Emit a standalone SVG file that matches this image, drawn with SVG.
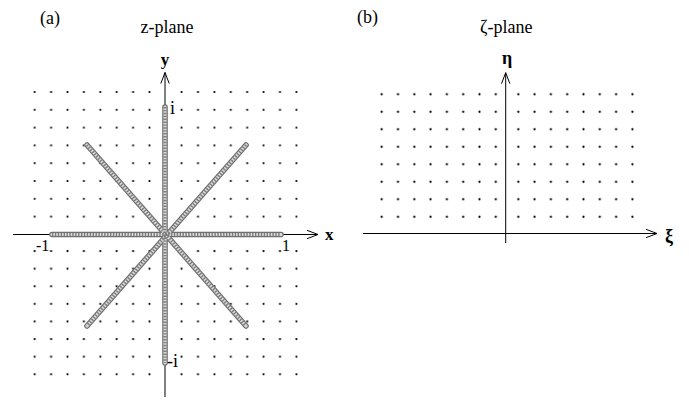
<svg xmlns="http://www.w3.org/2000/svg" width="689" height="401" viewBox="0 0 689 401">
<style>
.t{font-family:"Liberation Serif","Times New Roman",serif;fill:#000}
.ax{stroke:#000;stroke-width:1;fill:none}
.ro{stroke:#6e6e6e;stroke-width:5.6;stroke-linecap:round;fill:none}
.ri{stroke:#dcdcdc;stroke-width:3.2;stroke-linecap:round;fill:none}
.rh{stroke:#7c7c7c;stroke-width:3.2;stroke-dasharray:1.4 1.5;fill:none}
</style>
<defs>
<marker id="arr" markerUnits="userSpaceOnUse" markerWidth="14" markerHeight="12" refX="0" refY="0" viewBox="-12 -6 14 12" orient="auto" overflow="visible">
<path d="M-11,-4.2 L0,0 L-11,4.2" fill="none" stroke="#000" stroke-width="1"/>
</marker>
<pattern id="p1" patternUnits="userSpaceOnUse" x="-8.2" y="-8.9" width="16.4" height="17.8"><circle cx="8.2" cy="8.9" r="1.1" fill="#000"/></pattern>
<pattern id="p2" patternUnits="userSpaceOnUse" x="-8.2" y="-8.8" width="16.4" height="17.6"><circle cx="8.2" cy="8.8" r="1.1" fill="#000"/></pattern>
<pattern id="p3" patternUnits="userSpaceOnUse" x="-8.15" y="-8.75" width="16.3" height="17.5"><circle cx="8.15" cy="8.75" r="1.1" fill="#000"/></pattern>
</defs>
<rect width="689" height="401" fill="#fff"/>

<g id="panel-a">
<text class="t" x="40" y="24" font-size="18">(a)</text>
<text class="t" x="167" y="33" font-size="18" text-anchor="middle">z-plane</text>
<g id="grid-a">
<rect transform="translate(34.7,92)" x="-8.2" y="-8.9" width="131.2" height="142.4" fill="url(#p1)"/>
<rect transform="translate(181.6,92)" x="-8.2" y="-8.9" width="131.2" height="142.4" fill="url(#p1)"/>
<rect transform="translate(34.7,251)" x="-8.2" y="-8.8" width="131.2" height="140.8" fill="url(#p2)"/>
<rect transform="translate(181.6,251)" x="-8.2" y="-8.8" width="131.2" height="140.8" fill="url(#p2)"/>
</g>
<g id="axes-a">
<line class="ax" x1="13" y1="234.5" x2="318" y2="234.5" marker-end="url(#arr)"/>
<line class="ax" x1="165" y1="397" x2="165" y2="72.5" marker-end="url(#arr)"/>
</g>
<g id="cuts">
<line class="ro" x1="52" y1="234.5" x2="281" y2="234.5"/>
<line class="ro" x1="165" y1="107" x2="165" y2="363"/>
<line class="ro" x1="87" y1="145" x2="246" y2="326"/>
<line class="ro" x1="246" y1="145" x2="87" y2="326"/>
<line class="ri" x1="52" y1="234.5" x2="281" y2="234.5"/>
<line class="ri" x1="165" y1="107" x2="165" y2="363"/>
<line class="ri" x1="87" y1="145" x2="246" y2="326"/>
<line class="ri" x1="246" y1="145" x2="87" y2="326"/>
<line class="rh" x1="52" y1="234.5" x2="281" y2="234.5"/>
<line class="rh" x1="165" y1="107" x2="165" y2="363"/>
<line class="rh" x1="87" y1="145" x2="246" y2="326"/>
<line class="rh" x1="246" y1="145" x2="87" y2="326"/>
</g>
<text class="t" x="165" y="65" font-size="17" font-weight="bold" text-anchor="middle">y</text>
<text class="t" x="325" y="240" font-size="17" font-weight="bold">x</text>
<text class="t" x="170" y="114" font-size="18">i</text>
<text class="t" x="167" y="367" font-size="18">-i</text>
<text class="t" x="36" y="251" font-size="16">-1</text>
<text class="t" x="282" y="251" font-size="16">1</text>
</g>

<g id="panel-b">
<text class="t" x="357" y="23" font-size="18">(b)</text>
<text class="t" x="480" y="33" font-size="18">ζ-plane</text>
<g id="grid-b">
<rect transform="translate(381.7,94.3)" x="-8.15" y="-8.75" width="130.4" height="140" fill="url(#p3)"/>
<rect transform="translate(518.3,94.3)" x="-8.15" y="-8.75" width="130.4" height="140" fill="url(#p3)"/>
</g>
<g id="axes-b">
<line class="ax" x1="363" y1="233.5" x2="657" y2="233.5" marker-end="url(#arr)"/>
<line class="ax" x1="505.7" y1="243" x2="505.7" y2="72.7" marker-end="url(#arr)"/>
</g>
<text class="t" x="507" y="64" font-size="18" font-weight="bold" text-anchor="middle">η</text>
<text class="t" x="665" y="242" font-size="18" font-weight="bold">ξ</text>
</g>
</svg>
